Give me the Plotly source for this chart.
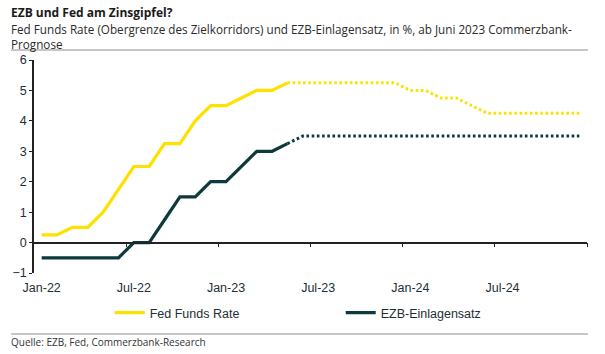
import plotly.graph_objects as go

# ---------------- data ----------------
months = [
    "Jan-22", "Feb-22", "Mar-22", "Apr-22", "May-22", "Jun-22",
    "Jul-22", "Aug-22", "Sep-22", "Oct-22", "Nov-22", "Dec-22",
    "Jan-23", "Feb-23", "Mar-23", "Apr-23", "May-23", "Jun-23",
    "Jul-23", "Aug-23", "Sep-23", "Oct-23", "Nov-23", "Dec-23",
    "Jan-24", "Feb-24", "Mar-24", "Apr-24", "May-24", "Jun-24",
    "Jul-24", "Aug-24", "Sep-24", "Oct-24", "Nov-24", "Dec-24",
]
# actual values Jan-22 .. May-23
fed_actual = [0.25, 0.25, 0.5, 0.5, 1.0, 1.75, 2.5, 2.5, 3.25, 3.25, 4.0, 4.5,
              4.5, 4.75, 5.0, 5.0, 5.25]
ezb_actual = [-0.5, -0.5, -0.5, -0.5, -0.5, -0.5, 0.0, 0.0, 0.75, 1.5, 1.5, 2.0,
              2.0, 2.5, 3.0, 3.0, 3.25]
# forecast values May-23 .. Dec-24
fed_forecast = [5.25, 5.25, 5.25, 5.25, 5.25, 5.25, 5.25, 5.25,
                5.0, 5.0, 4.75, 4.75, 4.5, 4.25, 4.25, 4.25, 4.25, 4.25, 4.25, 4.25]
ezb_forecast = [3.25, 3.5, 3.5, 3.5, 3.5, 3.5, 3.5, 3.5,
                3.5, 3.5, 3.5, 3.5, 3.5, 3.5, 3.5, 3.5, 3.5, 3.5, 3.5, 3.5]

y_ticks = [-1, 0, 1, 2, 3, 4, 5, 6]
label_step = 6

title = "EZB und Fed am Zinsgipfel?"
subtitle_1 = "Fed Funds Rate (Obergrenze des Zielkorridors) und EZB-Einlagensatz, in %, ab Juni 2023 Commerzbank-"
subtitle_2 = "Prognose"
source = "Quelle: EZB, Fed, Commerzbank-Research"

# ---------------- style ----------------
YELLOW = "#FFE100"
DARK = "#0E3A3B"
TXT = "#1d2e35"
AXIS = "#222222"
RULE = "#c6c6c6"
FONT = "Liberation Sans, Arial, sans-serif"
HFONT = "Open Sans, sans-serif"

idx = list(range(len(months)))
n_act = len(fed_actual)
start_fc = n_act - 1
x_act = idx[:n_act]
x_fc = idx[start_fc:start_fc + len(fed_forecast)]

W, H = 605, 354
ml, mr, mt, mb = 32, 18, 60, 81
pw, ph = W - ml - mr, H - mt - mb

def px(xp):
    return (xp - ml) / pw

def py(yp):
    return (H - mb - yp) / ph

fig = go.Figure()
fig.add_trace(go.Scatter(x=x_act, y=fed_actual, mode="lines", name="Fed Funds Rate",
                         line=dict(color=YELLOW, width=3.2), hoverinfo="skip"))
fig.add_trace(go.Scatter(x=x_act, y=ezb_actual, mode="lines", name="EZB-Einlagensatz",
                         line=dict(color=DARK, width=3.2), hoverinfo="skip"))
fig.add_trace(go.Scatter(x=x_fc, y=fed_forecast, mode="lines", showlegend=False,
                         xaxis="x2",
                         line=dict(color=YELLOW, width=3, dash="2.6px,2.6px"), hoverinfo="skip"))
fig.add_trace(go.Scatter(x=x_fc, y=ezb_forecast, mode="lines", showlegend=False,
                         xaxis="x2",
                         line=dict(color=DARK, width=3, dash="2.6px,2.6px"), hoverinfo="skip"))

xr = [-0.5, len(months) - 0.5]
yr = [y_ticks[0], y_ticks[-1]]

fig.update_layout(
    width=W, height=H,
    margin=dict(l=ml, r=mr, t=mt, b=mb),
    paper_bgcolor="white", plot_bgcolor="white",
    font=dict(family=FONT, size=12.5, color=TXT),
    xaxis=dict(
        range=xr, showgrid=False, zeroline=False, showline=False, ticks="",
        tickvals=idx[::label_step], ticktext=months[::label_step],
        tickfont=dict(family=FONT, size=12.5, color=TXT),
        ticklabelstandoff=5,
    ),
    xaxis2=dict(
        range=xr, overlaying="x", anchor="free",
        position=(0 - yr[0]) / (yr[1] - yr[0]),
        showgrid=False, zeroline=False, showline=True, linecolor=AXIS, linewidth=1.5,
        ticks="outside", ticklen=4, tickwidth=1.3, tickcolor=AXIS,
        tickvals=[i - 0.5 for i in range(label_step, len(months) + 1, label_step)],
        showticklabels=False,
    ),
    yaxis=dict(
        range=yr, tickvals=y_ticks, showgrid=False, zeroline=False,
        showline=True, linecolor=AXIS, linewidth=1.5,
        ticks="outside", ticklen=3, tickwidth=1.3, tickcolor=AXIS,
        tickfont=dict(family=FONT, size=12.5, color=TXT),
    ),
    legend=dict(
        orientation="h", x=px(108), xanchor="left", y=py(313), yanchor="middle",
        font=dict(family=FONT, size=12.5, color=TXT),
        entrywidth=186, entrywidthmode="pixels",
        bgcolor="rgba(0,0,0,0)",
    ),
    showlegend=True,
)

fig.add_annotation(text="<b>" + title + "</b>", xref="paper", yref="paper",
                   x=px(8), y=py(12.5), xanchor="left", yanchor="middle", showarrow=False,
                   borderpad=0, font=dict(family=HFONT, size=12, color="#1a1a1a"))
fig.add_annotation(text=subtitle_1 + "<br>" + subtitle_2, xref="paper", yref="paper",
                   x=px(8), y=py(36.5), xanchor="left", yanchor="middle", showarrow=False,
                   align="left", borderpad=0,
                   font=dict(family=HFONT, size=11.7, color="#2a2a2a"))
fig.add_annotation(text=source, xref="paper", yref="paper",
                   x=px(8), y=py(342), xanchor="left", yanchor="middle", showarrow=False,
                   borderpad=0, font=dict(family=HFONT, size=10, color="#333333"))

fig.add_shape(type="line", xref="paper", yref="paper", x0=px(9), x1=px(588),
              y0=py(50), y1=py(50), line=dict(color=RULE, width=2))
fig.add_shape(type="line", xref="paper", yref="paper", x0=px(9), x1=px(588),
              y0=py(334), y1=py(334), line=dict(color=RULE, width=2))

fig.write_html("out.html")
